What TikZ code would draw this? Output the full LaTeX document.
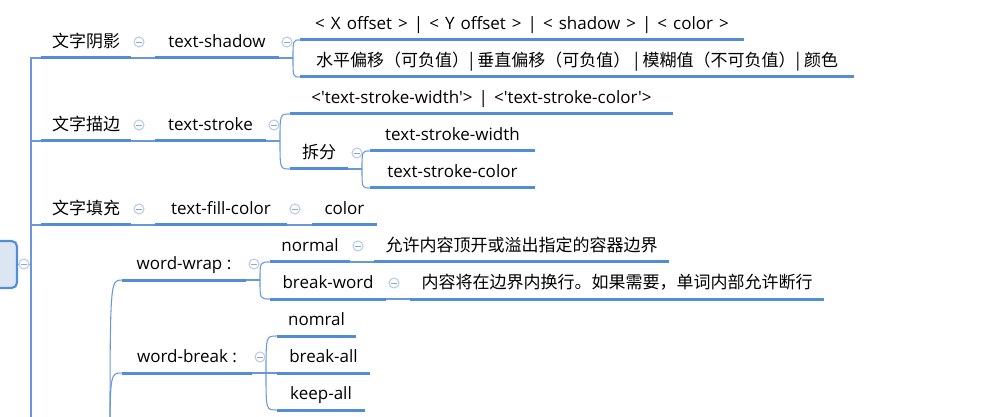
\documentclass[tikz,border=0pt]{standalone}
\usepackage{fontspec}
\setmainfont{Open Sans}[Ligatures=TeXOff]
\newfontfamily\cjk{Noto Sans CJK SC}
\definecolor{ublue}{RGB}{83,141,213}
\definecolor{cblue}{RGB}{105,152,216}
\definecolor{iconc}{RGB}{185,203,236}
\definecolor{icond}{RGB}{150,165,195}
\definecolor{rootfill}{RGB}{220,230,242}
\begin{document}
\begin{tikzpicture}[x=0.75pt,y=-0.75pt,
  topic/.style={anchor=south, inner xsep=0pt, inner ysep=4.5pt, text height=9.5pt, text depth=3pt,
    font=\fontsize{12.75pt}{15pt}\selectfont, text=black},
  mw/.style={minimum width=#1*0.75pt},
  uline/.style={draw=ublue, line width=2.25pt},
  conn/.style={draw=cblue, line width=0.8pt},
  icon/.style={circle, draw=iconc, fill=white, line width=0.8pt, minimum size=7.5pt, inner sep=0pt,
    path picture={\draw[icond, line width=0.6pt] ([xshift=-2pt]path picture bounding box.center) -- ([xshift=2pt]path picture bounding box.center);}},
  rootbox/.style={draw=ublue, fill=rootfill, line width=1.6pt, rounded corners=4pt, minimum width=57*0.75pt, minimum height=47*0.75pt, inner sep=0pt}
]
\useasboundingbox (0,0) rectangle (993,417);
\clip (0,0) rectangle (993,417);

% root (mostly off-screen)
\node[rootbox] (root) at (-11.5,264.5) {};

% topics
\node[topic, mw=90] (n1) at (86,58) {\cjk 文字阴影};
\node[topic, mw=90] (n2) at (86,141) {\cjk 文字描边};
\node[topic, mw=90] (n3) at (86,225) {\cjk 文字填充};
\node[topic, mw=124] (s1) at (217,58) {text-shadow};
\node[topic, mw=111] (s2) at (210.5,141) {text-stroke};
\node[topic, mw=132] (s3) at (221,225) {text-fill-color};
\node[topic, mw=444] (s1a) at (522,40) {\spaceskip=4.5pt plus 1pt < X offset > | < Y offset > | < shadow > | < color >};
\node[topic, mw=554] (s1b) at (577,77) {\cjk 水平偏移（可负值）| 垂直偏移（可负值） | 模糊值（不可负值）| 颜色};
\node[topic, mw=383] (s2a) at (481.5,114) {\spaceskip=4.5pt plus 1pt <'text-stroke-width'> | <'text-stroke-color'>};
\node[topic, mw=58] (s2b) at (319,169) {\cjk 拆分};
\node[topic, mw=165] (s2b1) at (452.5,151) {text-stroke-width};
\node[topic, mw=165] (s2b2) at (452.5,188) {text-stroke-color};
\node[topic, mw=65] (s3a) at (344.5,225) {color};
\node[topic, mw=124] (w1) at (184,280) {word-wrap :};
\node[topic, mw=80] (w1a) at (310,262) {normal};
\node[topic, mw=295] (w1a1) at (521.5,262) {\cjk 允许内容顶开或溢出指定的容器边界};
\node[topic, mw=116] (w1b) at (328,299) {break-word};
\node[topic, mw=414] (w1b1) at (617,299) {\cjk 内容将在边界内换行。如果需要，单词内部允许断行};
\node[topic, mw=130] (w2) at (187,373) {word-break :};
\node[topic, mw=79] (w2a) at (316.5,336) {nomral};
\node[topic, mw=93] (w2b) at (323.5,373) {break-all};
\node[topic, mw=88] (w2c) at (321,410) {keep-all};

% junctions
\coordinate (t0) at (31,58);
\coordinate (tb) at (31,440);
\coordinate (j1) at (293,58);
\coordinate (j2) at (280,141);
\coordinate (j3) at (362,169);
\coordinate (j4) at (260,280);
\coordinate (j5) at (266,373);
\coordinate (wj) at (110,455);

% trunk and stubs
\draw[conn] (n1.south west) -- (t0) -- (tb);
\draw[conn] (n2.south west) -- (n2.south west -| t0);
\draw[conn] (n3.south west) -- (n3.south west -| t0);
\draw[conn] (root.east) -- (root.east -| t0);

% straight connectors
\draw[conn] (n1.south east) -- (s1.south west);
\draw[conn] (n2.south east) -- (s2.south west);
\draw[conn] (n3.south east) -- (s3.south west);
\draw[conn] (s3.south east) -- (s3a.south west);
\draw[conn] (w1a.south east) -- (w1a1.south west);
\draw[conn] (w1b.south east) -- (w1b1.south west);
\draw[conn] (s1.south east) -- (j1);
\draw[conn] (s2.south east) -- (j2);
\draw[conn] (s2b.south east) -- (j3);
\draw[conn] (w1.south east) -- (j4);
\draw[conn] (w2.south east) -- (w2b.south west);

% curved branches
\foreach \j/\c in {j1/s1a, j1/s1b, j2/s2a, j2/s2b, j3/s2b1, j3/s2b2, j4/w1a, j4/w1b, j5/w2a, j5/w2c, wj/w1, wj/w2}
  \draw[conn] (\j) .. controls (\j |- \c.south west) .. (\c.south west);

% underlines
\foreach \n in {n1,n2,n3,s1,s2,s3,s1a,s1b,s2a,s2b,s2b1,s2b2,s3a,w1,w1a,w1a1,w1b,w1b1,w2,w2a,w2b,w2c}
  \draw[uline] (\n.south west) -- (\n.south east);

% collapse icons
\node[icon] (i1) at (139,42) {};
\node[icon] (i2) at (287,42) {};
\node[icon] (i3) at (139,125) {};
\node[icon] (i4) at (274,125) {};
\node[icon] (i5) at (357,153) {};
\node[icon] (i6) at (139,209) {};
\node[icon] (i7) at (295,209) {};
\node[icon] (i8) at (24,264) {};
\node[icon] (i9) at (254,264) {};
\node[icon] (i10) at (358,246) {};
\node[icon] (i11) at (394,283) {};
\node[icon] (i12) at (260,357) {};
\end{tikzpicture}
\end{document}
